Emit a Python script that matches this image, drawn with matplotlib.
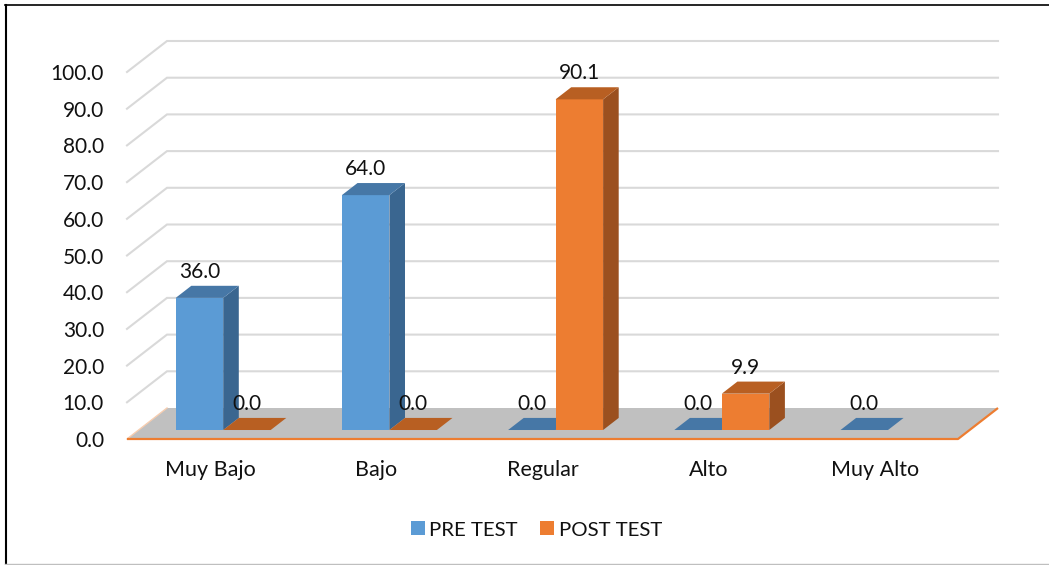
#!/usr/bin/env python3
# -*- coding: utf-8 -*-
"""Fake-3D clustered bars, PRE TEST vs POST TEST."""

import matplotlib
matplotlib.use("Agg")
import matplotlib.pyplot as plt
from matplotlib.lines import Line2D
from matplotlib.patches import Patch, Polygon

categories = ["Muy Bajo", "Bajo", "Regular", "Alto", "Muy Alto"]
pre_test = [36.0, 64.0, 0.0, 0.0, 0.0]
post_test = [0.0, 0.0, 90.1, 9.9, None]     # no orange mark on Muy Alto
value_ticks = [0, 10, 20, 30, 40, 50, 60, 70, 80, 90, 100]

W, H = 1049, 565
PLOT_L, PLOT_R, PLOT_T, PLOT_B = 127, 958, 72, 439   # pixels

BLUE = ("#5B9BD5", "#4677A6", "#3A6690")    # front, top, side
ORANGE = ("#ED7D31", "#B85F22", "#9B501F")
FS = 15

plt.rcParams["font.family"] = ["Lato", "DejaVu Sans"]

fig = plt.figure(figsize=(W / 100, H / 100), dpi=100, facecolor="white")
ax = fig.add_axes([PLOT_L / W, 1 - PLOT_B / H,
                   (PLOT_R - PLOT_L) / W, (PLOT_B - PLOT_T) / H])
ax.set_xlim(0, len(categories))
ax.set_ylim(0, 100)
ax.patch.set_visible(False)
for s in ax.spines.values():
    s.set_visible(False)

# depth of the floor, in data units
px_x = len(categories) / (PLOT_R - PLOT_L)
px_y = 100 / (PLOT_B - PLOT_T)
DEPTH_X = 40 * px_x
DEPTH_Y = 31 * px_y
BAR_W = 47.5 * px_x
D_FRONT, D_BACK = 0.29, 0.68


def proj(x, v, d):
    return (x + d * DEPTH_X, v + d * DEPTH_Y)


# ─── walls and floor ──────────────────────────────────────────────────────────

for v in value_ticks[1:]:
    ax.plot([0, DEPTH_X, len(categories) + DEPTH_X], [v, v + DEPTH_Y, v + DEPTH_Y],
            color="#D9D9D9", lw=1.5, clip_on=False, zorder=1, solid_joinstyle="miter")

n = len(categories)
floor = [proj(0, 0, 0), proj(n, 0, 0), proj(n, 0, 1), proj(0, 0, 1)]
ax.add_patch(Polygon(floor, closed=True, fc="#C0C0C0", ec="none", clip_on=False, zorder=2))
ax.plot([0, DEPTH_X], [0, DEPTH_Y], color="#F6CDB0", lw=1, clip_on=False, zorder=2.5)
ax.plot([0, n, n + DEPTH_X], [0, 0, DEPTH_Y], color="#ED7D31", lw=1.6,
        clip_on=False, zorder=2.5, solid_capstyle="butt")


# ─── bars ─────────────────────────────────────────────────────────────────────

def draw_bar(x0, val, cols, z):
    x1 = x0 + BAR_W
    front = [proj(x0, 0, D_FRONT), proj(x1, 0, D_FRONT), proj(x1, val, D_FRONT), proj(x0, val, D_FRONT)]
    side = [proj(x1, 0, D_FRONT), proj(x1, 0, D_BACK), proj(x1, val, D_BACK), proj(x1, val, D_FRONT)]
    top = [proj(x0, val, D_FRONT), proj(x1, val, D_FRONT), proj(x1, val, D_BACK), proj(x0, val, D_BACK)]
    for pts, c in ((side, cols[2]), (front, cols[0]), (top, cols[1])):
        ax.add_patch(Polygon(pts, closed=True, fc=c, ec="none", clip_on=False, zorder=z))
    xc, yc = proj(x0 + BAR_W / 2, val, D_FRONT)
    ax.annotate(f"{val:.1f}", (xc, yc), xytext=(0, 26 * 0.72), textcoords="offset points",
                ha="center", va="center", fontsize=FS, color="#111111",
                annotation_clip=False, zorder=10)


for i in range(n):
    mid = i + 0.5 + 1.5 * px_x
    draw_bar(mid - BAR_W, pre_test[i], BLUE, 3)
    if post_test[i] is not None:
        draw_bar(mid, post_test[i], ORANGE, 3)

# ─── axes text ────────────────────────────────────────────────────────────────

ax.set_yticks(value_ticks)
ax.set_yticklabels([f"{v:.1f}" for v in value_ticks], fontsize=FS, color="#111111")
ax.set_xticks([i + 0.5 for i in range(n)])
ax.set_xticklabels(categories, fontsize=15.5, color="#111111")
ax.tick_params(axis="y", length=0, pad=23 * 0.72)
ax.tick_params(axis="x", length=0, pad=21 * 0.72)

handles = [Patch(fc=BLUE[0], label="PRE TEST"), Patch(fc=ORANGE[0], label="POST TEST")]
leg = fig.legend(handles=handles, ncol=2, frameon=False, fontsize=14.7,
                 loc="center", bbox_to_anchor=(536.5 / W, 1 - 530 / H),
                 handlelength=0.68, handleheight=0.68, handletextpad=0.22,
                 columnspacing=1.1, borderpad=0, labelcolor="#111111")

# picture frame
fig.add_artist(Line2D([5.5 / W, 5.5 / W], [0, 1 - 4.5 / H], color="black", lw=1.5))
fig.add_artist(Line2D([5 / W, 1], [1 - 4.5 / H, 1 - 4.5 / H], color="black", lw=1.2))
fig.add_artist(Line2D([5 / W, 1], [1 - 564 / H, 1 - 564 / H], color="#BFBFBF", lw=1.0))

fig.savefig("out.png", dpi=100)
